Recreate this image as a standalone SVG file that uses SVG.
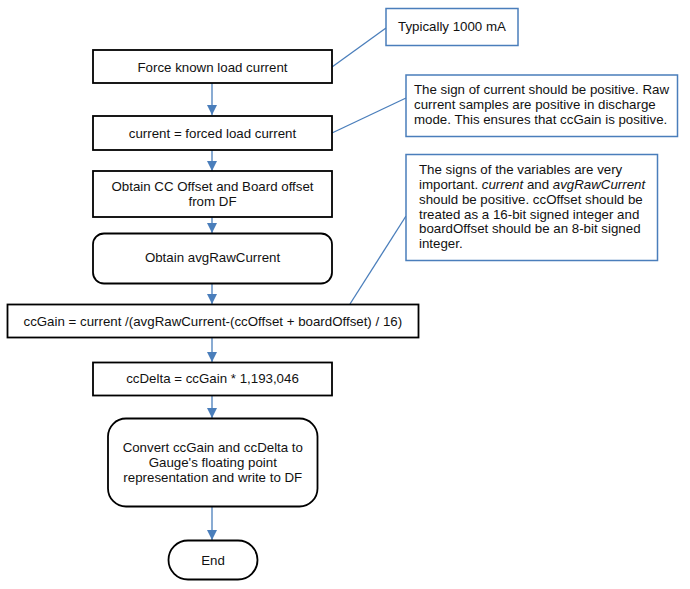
<svg xmlns="http://www.w3.org/2000/svg" width="690" height="589" viewBox="0 0 690 589">
<style>
.box{fill:#fff;stroke:#000;stroke-width:1.8}
.note{fill:#fff;stroke:#4a7ebb;stroke-width:1.5}
.t{font-family:"Liberation Sans",Arial,sans-serif;font-size:13.3px;fill:#111}
.c{text-anchor:middle}
.con{stroke:#4a7ebb;stroke-width:1.3;fill:none}
</style>
<defs>
<marker id="ah" markerUnits="userSpaceOnUse" markerWidth="10" markerHeight="10" viewBox="0 0 10 10" refX="10" refY="5" orient="auto">
<path d="M0,0 L10,5 L0,10 Z" fill="#4a7ebb"/>
</marker>
</defs>
<rect width="690" height="589" fill="#fff"/>
<g id="connectors">
<line class="con" x1="212" y1="83" x2="212" y2="115" marker-end="url(#ah)"/>
<line class="con" x1="212" y1="150" x2="212" y2="171" marker-end="url(#ah)"/>
<line class="con" x1="212" y1="217" x2="212" y2="233" marker-end="url(#ah)"/>
<line class="con" x1="212" y1="283" x2="212" y2="304" marker-end="url(#ah)"/>
<line class="con" x1="212" y1="337" x2="212" y2="362" marker-end="url(#ah)"/>
<line class="con" x1="212" y1="396" x2="212" y2="418" marker-end="url(#ah)"/>
<line class="con" x1="212" y1="507" x2="212" y2="540" marker-end="url(#ah)"/>
<line class="con" x1="332" y1="67" x2="386" y2="28"/>
<line class="con" x1="332" y1="133" x2="406" y2="98"/>
<line class="con" x1="350" y1="304" x2="406" y2="216"/>
</g>
<g id="n1"><rect class="box" x="93" y="50" width="239" height="33"/><text class="t c" x="212.5" y="71.5">Force known load current</text></g>
<g id="n2"><rect class="box" x="93" y="116" width="239" height="34"/><text class="t c" x="212.5" y="137.5">current = forced load current</text></g>
<g id="n3"><rect class="box" x="93" y="171" width="239" height="46"/><text class="t c" x="212.5" y="190.5">Obtain CC Offset and Board offset</text><text class="t c" x="212.5" y="205.5">from DF</text></g>
<g id="n4"><rect class="box" x="93" y="233.5" width="239" height="50" rx="11"/><text class="t c" x="212.5" y="261.5">Obtain avgRawCurrent</text></g>
<g id="n5"><rect class="box" x="7.5" y="304.5" width="411" height="33"/><text class="t c" x="212.8" y="325.5">ccGain = current /(avgRawCurrent-(ccOffset + boardOffset) / 16)</text></g>
<g id="n6"><rect class="box" x="93" y="362.5" width="239" height="33"/><text class="t c" x="212.5" y="383">ccDelta = ccGain * 1,193,046</text></g>
<g id="n7"><rect class="box" x="108" y="418.5" width="209.5" height="88" rx="18"/><text class="t c" x="212.8" y="452">Convert ccGain and ccDelta to</text><text class="t c" x="212.8" y="467">Gauge's floating point</text><text class="t c" x="212.8" y="482">representation and write to DF</text></g>
<g id="n8"><rect class="box" x="168.5" y="540.5" width="89" height="39" rx="19.5"/><text class="t c" x="213" y="564.5">End</text></g>
<g id="note1"><rect class="note" x="386" y="8.5" width="132" height="37"/><text class="t" x="398" y="30.5">Typically 1000 mA</text></g>
<g id="note2"><rect class="note" x="406" y="75" width="271.5" height="61.5"/><text class="t" x="414" y="94">The sign of current should be positive. Raw</text><text class="t" x="414" y="109">current samples are positive in discharge</text><text class="t" x="414" y="124">mode. This ensures that ccGain is positive.</text></g>
<g id="note3"><rect class="note" x="406" y="154.5" width="251.5" height="106"/><text class="t" x="419" y="174">The signs of the variables are very</text><text class="t" x="419" y="189">important. <tspan font-style="italic">current</tspan> and <tspan font-style="italic">avgRawCurrent</tspan></text><text class="t" x="419" y="203.5">should be positive. ccOffset should be</text><text class="t" x="419" y="218.5">treated as a 16-bit signed integer and</text><text class="t" x="419" y="233">boardOffset should be an 8-bit signed</text><text class="t" x="419" y="248">integer.</text></g>
</svg>
